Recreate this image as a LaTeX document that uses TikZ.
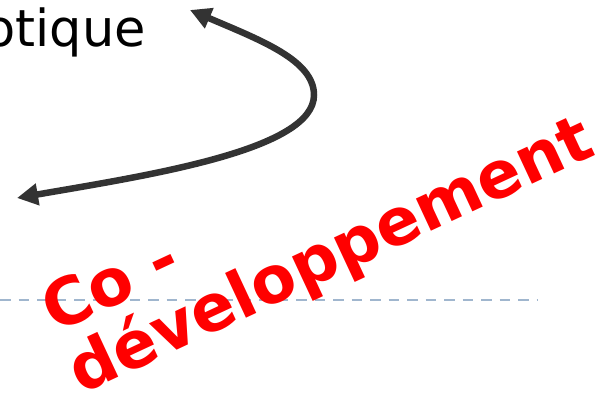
\documentclass[tikz,border=0pt]{standalone}
\usepackage{fontspec}
\setmainfont{DejaVu Sans}
\usetikzlibrary{arrows.meta}
\definecolor{arrowgray}{HTML}{333333}
\definecolor{dashblue}{RGB}{160,182,206}
\definecolor{cored}{RGB}{255,0,0}
\begin{document}
\begin{tikzpicture}[x=1pt,y=-1pt]
\tikzstyle{every node}=[inner sep=0pt,outer sep=0pt]
\tikzstyle{redtext}=[text=cored,font=\fontsize{65}{72}\selectfont\bfseries,rotate=25,anchor=base west]
\useasboundingbox (0,0) rectangle (603,395);
\node[anchor=base east,font=\fontsize{51}{60}\selectfont](titre) at (146,47) {otique};
\coordinate (haut) at (190,10);
\coordinate (bas) at (17,198);
\coordinate (gauche) at (0,300);
\coordinate (droite) at (537,300);
\draw[dashblue,line width=2pt,dash pattern=on 10.5pt off 8pt] (gauche) -- (droite);
\draw[arrowgray,line width=6.5pt,{Triangle[length=21pt,width=21pt]}-{Triangle[length=21pt,width=21pt]}] (haut) .. controls (260,40) and (314,60) .. (314,95) .. controls (314,150) and (150,175) .. (bas);
\node[redtext](co) at (55,334) {Co -};
\node[redtext](dev) at (81,395) {développement};
\end{tikzpicture}
\end{document}
